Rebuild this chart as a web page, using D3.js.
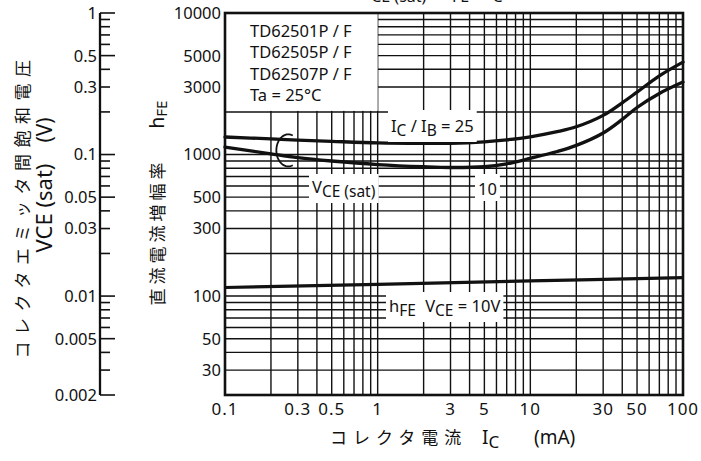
<!DOCTYPE html>
<html><head><meta charset="utf-8">
<script src="https://cdn.jsdelivr.net/npm/d3@7"></script>
<style>
body{margin:0;background:#fff}
svg{display:block}
text{font-family:"Noto Sans",sans-serif;fill:#111}
.jp{font-family:"Noto Sans CJK JP",sans-serif}
</style>
</head><body>
<svg id="c" width="701" height="461"></svg>
<script>
// ---- data ----
const icValues   = [0.1, 0.2, 0.3, 0.5, 1, 2, 3, 5, 7, 10, 15, 20, 30, 40, 50, 70, 100]; // mA
const vceSatIb25 = [0.133, 0.129, 0.1265, 0.124, 0.121, 0.120, 0.120, 0.123, 0.127, 0.1335, 0.145, 0.157, 0.189, 0.232, 0.276, 0.36, 0.45]; // V, IC/IB=25
const vceSatIb10 = [0.113, 0.101, 0.095, 0.090, 0.085, 0.082, 0.081, 0.082, 0.086, 0.094, 0.105, 0.116, 0.142, 0.177, 0.215, 0.270, 0.325]; // V, IC/IB=10
const hfeIc      = [0.1, 1, 10, 100];
const hfeValues  = [115, 121, 128, 135]; // VCE = 10V
const xTickLabels   = [0.1, 0.3, 0.5, 1, 3, 5, 10, 30, 50, 100];
const hfeTickLabels = [10000, 5000, 3000, 1000, 500, 300, 100, 50, 30];
const vceTickLabels = [1, 0.5, 0.3, 0.1, 0.05, 0.03, 0.01, 0.005, 0.002];
const legendLines   = ["TD62501P / F", "TD62505P / F", "TD62507P / F", "Ta = 25°C"];

// ---- layout ----
const svg = d3.select("#c");
const L = 225, R = 683, T = 13, B = 395, VAX = 100;
const x  = d3.scaleLog().domain([0.1, 100]).range([L, R]);
const y  = d3.scaleLog().domain([20, 10000]).range([B, T]);
const yV = d3.scaleLog().domain([0.002, 1]).range([B, T]);
const ink = "#111";

// grid
const g = svg.append("g");
g.selectAll("line.v").data(x.ticks()).join("line")
  .attr("x1", d => x(d)).attr("x2", d => x(d)).attr("y1", T).attr("y2", B)
  .attr("stroke", ink).attr("stroke-width", 1.4);
g.selectAll("line.h").data(y.ticks()).join("line")
  .attr("y1", d => y(d)).attr("y2", d => y(d)).attr("x1", L).attr("x2", R)
  .attr("stroke", ink).attr("stroke-width", 1.4);

// legend box (white)
svg.append("rect").attr("x", x(0.1)).attr("y", y(10000))
  .attr("width", x(1) - x(0.1)).attr("height", y(2000) - y(10000) - 1).attr("fill", "#fff");
legendLines.forEach((t, i) => {
  svg.append("text").attr("x", 250).attr("y", 37 + i * 21.3)
    .attr("font-size", 16.5).text(t);
});

// frame
svg.append("rect").attr("x", L).attr("y", T).attr("width", R - L).attr("height", B - T)
  .attr("fill", "none").attr("stroke", ink).attr("stroke-width", 2.6);

// curves
const lineV = d3.line().x((d, i) => x(icValues[i])).y(d => yV(d)).curve(d3.curveCatmullRom.alpha(0.5));
[vceSatIb25, vceSatIb10].forEach(s => {
  svg.append("path").attr("d", lineV(s)).attr("fill", "none")
    .attr("stroke", ink).attr("stroke-width", 3.3).attr("stroke-linecap", "round");
});
const lineH = d3.line().x((d, i) => x(hfeIc[i])).y(d => y(d)).curve(d3.curveCatmullRom.alpha(0.5));
svg.append("path").attr("d", lineH(hfeValues)).attr("fill", "none")
  .attr("stroke", ink).attr("stroke-width", 3.2);

// bracket grouping the two VCE(sat) curves
{
  const cx = x(0.26), cy = yV(0.107), rx = 12, ry = 16;
  const a0 = -Math.PI * 0.38, a1 = Math.PI * 0.38;
  const p = d3.path();
  p.moveTo(cx + rx * Math.cos(a0), cy + ry * Math.sin(a0));
  const n = 40;
  for (let k = 1; k <= n; k++) {
    const a = a0 - (2 * Math.PI - (a1 - a0)) * k / n;
    p.lineTo(cx + rx * Math.cos(a), cy + ry * Math.sin(a));
  }
  svg.append("path").attr("d", p.toString()).attr("fill", "none")
    .attr("stroke", ink).attr("stroke-width", 1.8);
}

// labels with white background; parts: [text, isSub, dx]
function label(xp, yp, parts, size, padT) {
  const grp = svg.append("g");
  const bg = grp.append("rect").attr("fill", "#fff");
  const t = grp.append("text").attr("x", xp).attr("y", yp).attr("font-size", size);
  let low = false;
  parts.forEach(([s, sub, dx]) => {
    const ts = t.append("tspan").text(s).attr("font-size", sub ? size - 1 : size);
    if (dx) ts.attr("dx", dx);
    if (sub && !low) { ts.attr("dy", 4); low = true; }
    else if (!sub && low) { ts.attr("dy", -4); low = false; }
  });
  const bb = t.node().getBBox();
  bg.attr("x", bb.x - 3).attr("y", bb.y - (padT || 1)).attr("width", bb.width + 6).attr("height", bb.height + (padT || 1) + 1);
}
label(391, 132, [["I", 0], ["C", 1], [" / I", 0], ["B", 1], [" = 25", 0]], 16.5, 4);
label(312, 193, [["V", 0], ["CE (sat)", 1]], 16.5, 1);
label(478, 195, [["10", 0]], 16.5, 3);
label(389, 312, [["h", 0], ["FE", 1], [" V", 0, 5], ["CE", 1], [" = 10V", 0]], 16.5, 2);

// cut-off title at top (as in the reference, only its lower edge is inside the frame)
{
  const t = svg.append("text").attr("x", 361).attr("y", -3).attr("font-size", 17);
  t.append("tspan").text("V");
  t.append("tspan").text("CE (sat)").attr("font-size", 16).attr("dy", 5);
  t.append("tspan").text(" / h").attr("dy", -5);
  t.append("tspan").text("FE").attr("font-size", 16).attr("dy", 5);
  t.append("tspan").text(" – I").attr("dy", -5);
  t.append("tspan").text("C").attr("font-size", 16).attr("dy", 5);
}

// hFE tick labels
svg.selectAll("text.hl").data(hfeTickLabels).join("text")
  .attr("x", L - 4).attr("y", d => y(d)).attr("dy", "0.36em")
  .attr("text-anchor", "end").attr("font-size", 16.5).text(d => d);

// x tick labels
svg.selectAll("text.xl").data(xTickLabels).join("text")
  .attr("x", d => x(d)).attr("y", 415)
  .attr("text-anchor", "middle").attr("font-size", 17).attr("letter-spacing", 1).text(d => d);

// left VCE(sat) axis
svg.append("line").attr("x1", VAX).attr("x2", VAX).attr("y1", yV(1)).attr("y2", yV(0.002))
  .attr("stroke", ink).attr("stroke-width", 2.3);
const isMajor = d => { const m = d / Math.pow(10, Math.floor(Math.log10(d) + 1e-9)); return Math.abs(m - 1) < 1e-6 || Math.abs(m - 5) < 1e-6 || Math.abs(m - 2) < 1e-6 && d < 0.0021; };
svg.selectAll("line.vt").data(yV.ticks()).join("line")
  .attr("x1", VAX).attr("x2", d => VAX + (isMajor(d) ? 15 : 10))
  .attr("y1", d => yV(d)).attr("y2", d => yV(d))
  .attr("stroke", ink).attr("stroke-width", 1.6);
svg.selectAll("text.vl").data(vceTickLabels).join("text")
  .attr("x", VAX - 3).attr("y", d => yV(d)).attr("dy", "0.36em")
  .attr("text-anchor", "end").attr("font-size", 16.5).text(d => d);

// axis titles
svg.append("text").attr("class", "jp")
  .attr("transform", "translate(29,206) rotate(-90)")
  .attr("text-anchor", "middle").attr("font-size", 17).attr("letter-spacing", 6.5)
  .text("コレクタエミッタ間飽和電圧");
svg.append("text").attr("transform", "translate(52,208) rotate(-90)")
  .attr("text-anchor", "middle").attr("font-size", 22).text("VCE (sat)");
svg.append("text").attr("transform", "translate(52,130) rotate(-90)")
  .attr("text-anchor", "middle").attr("font-size", 21).text("(V)");
{
  const t = svg.append("text").attr("transform", "translate(164,203) rotate(-90)")
    .attr("text-anchor", "middle");
  t.append("tspan").attr("class", "jp").attr("font-size", 17).attr("letter-spacing", 4).text("直流電流増幅率");
  t.append("tspan").attr("font-size", 19).attr("dx", 30).text("h");
  t.append("tspan").attr("font-size", 15).attr("dy", 3).text("FE");
}
{
  const t = svg.append("text").attr("x", 330).attr("y", 444);
  t.append("tspan").attr("class", "jp").attr("font-size", 17).attr("letter-spacing", 6).text("コレクタ電流");
  t.append("tspan").attr("x", 482).attr("font-size", 19).text("I");
  t.append("tspan").attr("font-size", 17).attr("dy", 4).text("C");
  t.append("tspan").attr("x", 534).attr("dy", -4).attr("font-size", 19).text("(mA)");
}
</script>
</body></html>
